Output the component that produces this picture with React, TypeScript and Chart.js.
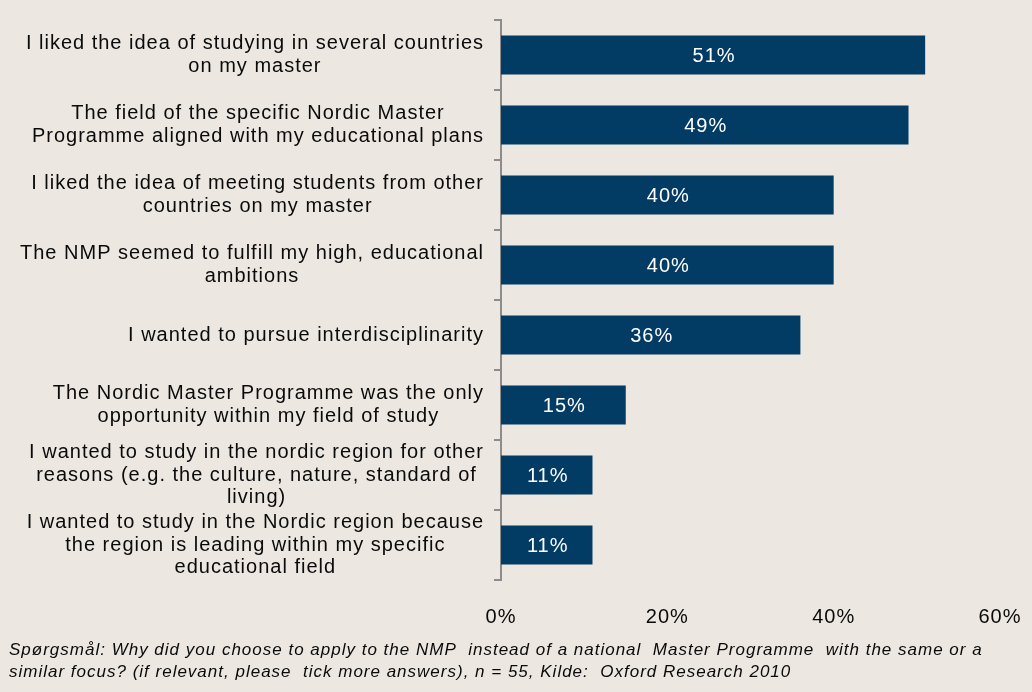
import React, { useEffect, useRef } from "react";
import { Chart, registerables } from "chart.js";

Chart.register(...registerables);

const categories: string[][] = [
  ["I liked the idea of studying in several countries", "on my master"],
  ["The field of the specific Nordic Master", "Programme aligned with my educational plans"],
  ["I liked the idea of meeting students from other", "countries on my master"],
  ["The NMP seemed to fulfill my high, educational", "ambitions"],
  ["I wanted to pursue interdisciplinarity"],
  ["The Nordic Master Programme was the only", "opportunity within my field of study"],
  ["I wanted to study in the nordic region for other", "reasons (e.g. the culture, nature, standard of", "living)"],
  ["I wanted to study in the Nordic region because", "the region is leading within my specific", "educational field"],
];

const values: number[] = [51, 49, 40, 40, 36, 15, 11, 11];

const xTicks: number[] = [0, 20, 40, 60];

const footerLines: string[] = [
  "Spørgsmål: Why did you choose to apply to the NMP  instead of a national  Master Programme  with the same or a",
  "similar focus? (if relevant, please  tick more answers), n = 55, Kilde:  Oxford Research 2010",
];

const BG = "#ECE8E1";
const BAR = "#023B63";
const AXIS = "#8C8C8C";
const FONT = "'Liberation Sans', Arial, sans-serif";

export default function App() {
  const ref = useRef<HTMLCanvasElement | null>(null);

  useEffect(() => {
    document.body.style.margin = "0";
    document.body.style.background = BG;
    const canvas = ref.current;
    if (!canvas) return;

    const textPlugin = {
      id: "textPlugin",
      beforeDraw(chart: any) {
        const ctx = chart.ctx;
        ctx.save();
        ctx.fillStyle = BG;
        ctx.fillRect(0, 0, chart.width, chart.height);
        ctx.restore();
        ctx.letterSpacing = "1px";
      },
      afterDraw(chart: any) {
        const ctx = chart.ctx;
        const yScale = chart.scales.y;
        ctx.save();
        ctx.letterSpacing = "1px";
        // category labels
        ctx.font = `20px ${FONT}`;
        ctx.fillStyle = "#0A0A0A";
        ctx.textAlign = "center";
        ctx.textBaseline = "middle";
        const lh = 22.5;
        const rightEdge = 484;
        chart.data.labels.forEach((lines: string[], i: number) => {
          const cy = yScale.getPixelForValue(i);
          let w = 0;
          lines.forEach((l) => {
            w = Math.max(w, ctx.measureText(l).width);
          });
          const cx = rightEdge - w / 2;
          const n = lines.length;
          lines.forEach((l, j) => {
            const y = cy + (j - (n - 1) / 2) * lh;
            ctx.fillText(l, cx, y);
          });
        });
        // bar value labels
        ctx.fillStyle = "#FFFFFF";
        ctx.font = `20px ${FONT}`;
        const meta = chart.getDatasetMeta(0);
        meta.data.forEach((bar: any, i: number) => {
          const v = chart.data.datasets[0].data[i];
          ctx.fillText(v + "%", (bar.x + bar.base) / 2 + 1, bar.y + 1);
        });
        // footer
        ctx.fillStyle = "#0A0A0A";
        ctx.font = `italic 17px ${FONT}`;
        ctx.textAlign = "left";
        ctx.textBaseline = "alphabetic";
        footerLines.forEach((l, j) => {
          ctx.fillText(l, 9, 655 + j * 22);
        });
        ctx.restore();
      },
    };

    const chart = new Chart(canvas, {
      type: "bar",
      data: {
        labels: categories as any,
        datasets: [
          {
            data: values,
            backgroundColor: BAR,
            borderWidth: 0,
            barPercentage: 0.56,
            categoryPercentage: 1,
          },
        ],
      },
      options: {
        indexAxis: "y",
        animation: false,
        responsive: true,
        maintainAspectRatio: false,
        layout: { padding: { top: 20, right: 32, bottom: 62, left: 0 } },
        plugins: {
          legend: { display: false },
          tooltip: { enabled: false },
          title: { display: false },
        },
        scales: {
          x: {
            min: 0,
            max: 60,
            afterBuildTicks(scale: any) {
              scale.ticks = xTicks.map((v) => ({ value: v }));
            },
            afterFit(scale: any) {
              scale.height = 50;
              scale.paddingLeft = 0;
              scale.paddingRight = 0;
            },
            grid: { display: false, drawTicks: false },
            border: { display: false },
            ticks: {
              padding: 25,
              color: "#0A0A0A",
              font: { family: FONT, size: 20 },
              callback: (v: any) => v + "%",
              maxRotation: 0,
            },
          },
          y: {
            type: "category",
            afterFit(scale: any) {
              scale.width = 501;
            },
            grid: {
              display: true,
              drawOnChartArea: false,
              drawTicks: true,
              tickLength: 7,
              color: AXIS,
              lineWidth: 2,
              offset: true,
            },
            border: { display: true, color: AXIS, width: 2 },
            ticks: { display: false },
          },
        },
      },
      plugins: [textPlugin],
    });

    return () => chart.destroy();
  }, []);

  return (
    <div style={{ width: 1032, height: 692, position: "relative", background: BG }}>
      <canvas ref={ref} />
    </div>
  );
}
